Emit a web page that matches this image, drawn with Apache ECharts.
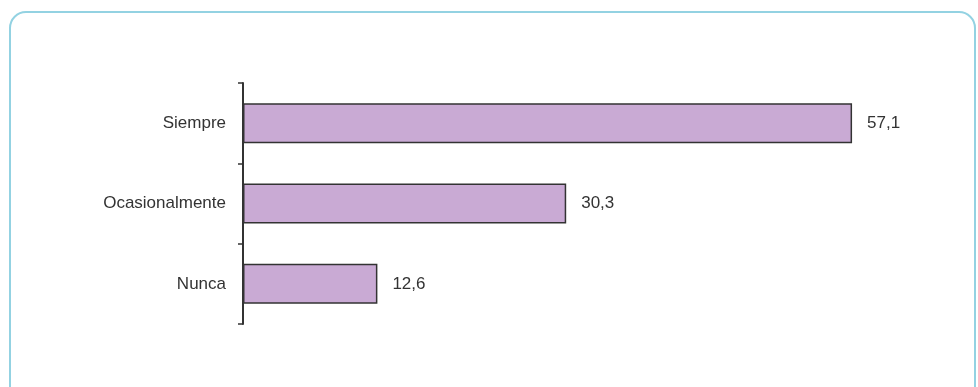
<!DOCTYPE html>
<html>
<head>
<meta charset="utf-8">
<script src="https://cdn.jsdelivr.net/npm/echarts@6/dist/echarts.min.js"></script>
<style>
  html, body { margin: 0; padding: 0; background: #fff; }
  #chart { width: 978px; height: 387px; }
</style>
</head>
<body>
<div id="chart"></div>
<script>
let categories = ['Siempre', 'Ocasionalmente', 'Nunca'];
let values = [57.1, 30.3, 12.6];

let myChart = echarts.init(document.getElementById('chart'));
let option = {
  animation: false,
  graphic: [
    {
      type: 'rect',
      shape: { x: 10, y: 12, width: 965, height: 400, r: 16 },
      style: { fill: 'none', stroke: '#93d2e2', lineWidth: 2 },
      silent: true
    }
  ],
  grid: {
    left: 243,
    top: 83,
    height: 241,
    width: 640
  },
  xAxis: {
    type: 'value',
    min: 0,
    max: 60,
    show: false
  },
  yAxis: {
    type: 'category',
    inverse: true,
    data: categories,
    axisLine: { lineStyle: { color: '#333', width: 2 } },
    axisTick: { show: true, alignWithLabel: false, length: 5, lineStyle: { color: '#333', width: 1.5 } },
    axisLabel: {
      margin: 17,
      color: '#333',
      fontSize: 17,
      fontFamily: 'Liberation Sans, Arial, sans-serif'
    }
  },
  series: [
    {
      type: 'bar',
      data: values,
      barWidth: 40,
      itemStyle: {
        color: '#c9aad4',
        borderColor: '#333',
        borderWidth: 1.5
      },
      label: {
        show: true,
        position: 'right',
        distance: 15,
        color: '#333',
        fontSize: 17,
        fontFamily: 'Liberation Sans, Arial, sans-serif',
        formatter: function (p) {
          return p.value.toFixed(1).replace('.', ',');
        }
      }
    }
  ]
};
myChart.setOption(option);
</script>
</body>
</html>
